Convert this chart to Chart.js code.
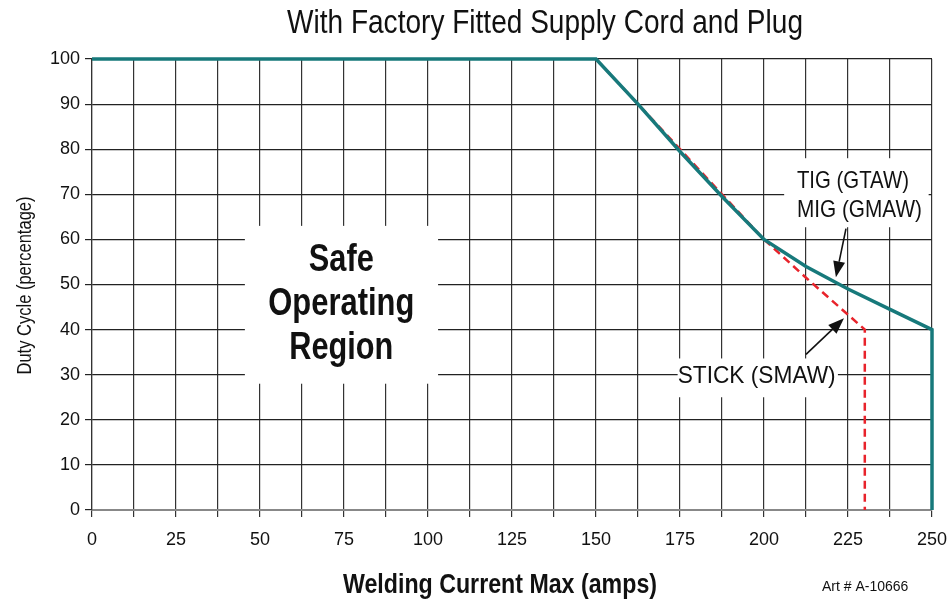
<!DOCTYPE html>
<html>
<head>
<meta charset="utf-8">
<title>Duty Cycle</title>
<script src="https://cdn.jsdelivr.net/npm/chart.js@4.4.0/dist/chart.umd.min.js"></script>
<style>
  html, body { margin: 0; padding: 0; background: #fff; }
  canvas { display: block; }
</style>
</head>
<body>
<canvas id="chart" width="950" height="604"></canvas>
<script>
// welding current (amps) / duty cycle (%) for each process
const ampsMigTig = [0, 150, 162.5, 175, 187.5, 200, 212.5, 225, 237.5, 250, 250];
const dutyMigTig = [100, 100, 90, 79.5, 69.5, 60, 54, 49, 44.5, 40, 0];
const ampsStick = [150, 162.5, 175, 187.5, 200, 212.5, 225, 230, 230];
const dutyStick = [100, 90, 80, 70, 60, 51.5, 43.3, 40, 0];

const currentLabels = [0, 25, 50, 75, 100, 125, 150, 175, 200, 225, 250];
const dutyLabels = [0, 10, 20, 30, 40, 50, 60, 70, 80, 90, 100];

const FONT = "'Liberation Sans', Arial, sans-serif";
const TEAL = '#17797b';
const RED = '#e8232b';

function toPoints(xs, ys) {
  return xs.map((x, i) => ({ x: x, y: ys[i] }));
}

// text squeezed to a width, like a condensed face
function text(ctx, str, x, y, font, align, maxWidth) {
  ctx.font = font;
  ctx.textAlign = align;
  ctx.textBaseline = 'alphabetic';
  ctx.fillStyle = '#111';
  ctx.fillText(str, x, y, maxWidth);
}

function arrow(ctx, x1, y1, x2, y2) {
  const ang = Math.atan2(y2 - y1, x2 - x1);
  const len = 16, half = 6;
  const bx = x2 - len * Math.cos(ang), by = y2 - len * Math.sin(ang);
  ctx.strokeStyle = '#111';
  ctx.fillStyle = '#111';
  ctx.lineWidth = 1.6;
  ctx.beginPath();
  ctx.moveTo(x1, y1);
  ctx.lineTo(bx, by);
  ctx.stroke();
  ctx.beginPath();
  ctx.moveTo(x2, y2);
  ctx.lineTo(bx + half * Math.sin(ang), by - half * Math.cos(ang));
  ctx.lineTo(bx - half * Math.sin(ang), by + half * Math.cos(ang));
  ctx.closePath();
  ctx.fill();
}

// white panels behind the labels, then the labels, arrows and titles
const labelsPlugin = {
  id: 'labels',
  beforeDatasetsDraw(chart) {
    const { ctx, scales: { x, y } } = chart;
    const boxes = [
      [45.5, 103, 28, 63],
      [206, 249, 62.7, 78],
      [174.3, 222, 25, 33.6]
    ];
    ctx.save();
    ctx.fillStyle = '#fff';
    boxes.forEach(b => {
      const l = x.getPixelForValue(b[0]), r = x.getPixelForValue(b[1]);
      const t = y.getPixelForValue(b[3]), btm = y.getPixelForValue(b[2]);
      ctx.fillRect(l, t, r - l, btm - t);
    });
    ctx.restore();
  },
  afterDatasetsDraw(chart) {
    const { ctx, scales: { x, y } } = chart;
    ctx.save();
    const big = 'bold 39px ' + FONT;
    text(ctx, 'Safe', x.getPixelForValue(74.2), y.getPixelForValue(53.1), big, 'center', 65);
    text(ctx, 'Operating', x.getPixelForValue(74.2), y.getPixelForValue(43.2), big, 'center', 146);
    text(ctx, 'Region', x.getPixelForValue(74.2), y.getPixelForValue(33.4), big, 'center', 104);

    const lab = '24px ' + FONT;
    text(ctx, 'TIG (GTAW)', x.getPixelForValue(209.8), y.getPixelForValue(71.5), lab, 'left', 112);
    text(ctx, 'MIG (GMAW)', x.getPixelForValue(209.8), y.getPixelForValue(64.9), lab, 'left', 125);
    text(ctx, 'STICK (SMAW)', x.getPixelForValue(174.3), y.getPixelForValue(28.1), lab, 'left', 158);

    arrow(ctx, x.getPixelForValue(224.4), y.getPixelForValue(62.4),
      x.getPixelForValue(221.4), y.getPixelForValue(51.6));
    arrow(ctx, x.getPixelForValue(212.5), y.getPixelForValue(34.5),
      x.getPixelForValue(223.8), y.getPixelForValue(42.5));
    ctx.restore();
  },
  afterDraw(chart) {
    const { ctx, chartArea } = chart;
    ctx.save();
    text(ctx, 'With Factory Fitted Supply Cord and Plug', 545, 33, '33px ' + FONT, 'center', 516);
    text(ctx, 'Welding Current Max (amps)', 500, 593, 'bold 28px ' + FONT, 'center', 314);
    text(ctx, 'Art # A-10666', 822, 591, '14px ' + FONT, 'left', 89);
    ctx.translate(31, (chartArea.top + chartArea.bottom) / 2 + 1);
    ctx.rotate(-Math.PI / 2);
    text(ctx, 'Duty Cycle (percentage)', 0, 0, '21px ' + FONT, 'center', 178);
    ctx.restore();
  }
};

const chartData = {
  datasets: [{
    label: 'TIG (GTAW) / MIG (GMAW)',
    data: toPoints(ampsMigTig, dutyMigTig),
    showLine: true,
    borderColor: TEAL,
    borderWidth: 3.5,
    pointRadius: 0,
    borderJoinStyle: 'miter',
    clip: 4
  }, {
    label: 'STICK (SMAW)',
    data: toPoints(ampsStick, dutyStick),
    showLine: true,
    borderColor: RED,
    borderWidth: 2.5,
    borderDash: [8, 5],
    pointRadius: 0,
    clip: 4
  }]
};

const chartOption = {
  responsive: false,
  animation: false,
  layout: { padding: { top: 59, right: 18, left: 0, bottom: 0 } },
  plugins: {
    legend: { display: false },
    tooltip: { enabled: false }
  },
  scales: {
    x: {
      type: 'linear',
      min: 0,
      max: 250,
      afterFit: s => {
        s.height = 94;
        s.paddingLeft = 0;
        s.paddingRight = 0;
      },
      afterBuildTicks: s => {
        s.ticks = [];
        for (let v = 0; v <= 250; v += 12.5) s.ticks.push({ value: v });
      },
      ticks: {
        autoSkip: false,
        maxRotation: 0,
        padding: 12,
        color: '#111',
        font: { family: FONT, size: 18 },
        callback: v => (currentLabels.includes(v) ? String(v) : '')
      },
      grid: { color: '#333', lineWidth: 1.2, tickLength: 7 },
      border: { color: '#888', width: 2 }
    },
    y: {
      type: 'linear',
      min: 0,
      max: 100,
      afterFit: s => { s.width = 92; },
      afterBuildTicks: s => { s.ticks = dutyLabels.map(v => ({ value: v })); },
      ticks: {
        padding: 5,
        color: '#111',
        font: { family: FONT, size: 18 }
      },
      grid: { color: '#222', lineWidth: 1.2, tickLength: 7 },
      border: { color: '#333', width: 1.2 }
    }
  }
};

new Chart(document.getElementById('chart'), {
  type: 'scatter',
  data: chartData,
  options: chartOption,
  plugins: [labelsPlugin]
});
</script>
</body>
</html>
